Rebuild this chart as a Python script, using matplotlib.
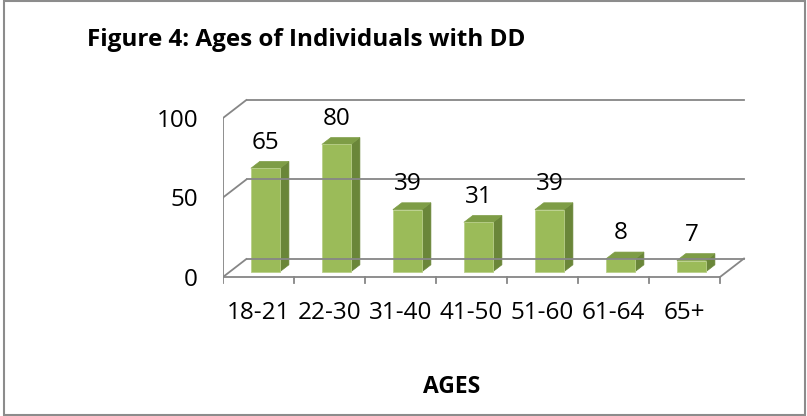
import matplotlib
matplotlib.use("Agg")
import matplotlib.pyplot as plt
from matplotlib.patches import Polygon, Rectangle

# ---- data ----
age_groups = ["18-21", "22-30", "31-40", "41-50", "51-60", "61-64", "65+"]
counts = [65, 80, 39, 31, 39, 8, 7]
y_ticks = [0, 50, 100]
title = "Figure 4: Ages of Individuals with DD"
x_title = "AGES"

# ---- styling / geometry ----
W, H, DPI = 807, 416, 100
FONT = "Open Sans"
FS = 17.5
GRID = "#868686"
FRONT = "#9BBB59"
SIDE = "#6A8639"
TOP = "#7E9D46"
EDGE = "#B9CF8A"

PX_X = 71.0      # pixels per category
PX_Y = 1.59      # pixels per value unit
DX = 24.0 / PX_X  # depth offset (x, data units)
DY = 18.5 / PX_Y  # depth offset (y, data units)
F0, DEPTH, BAR_W = 0.29, 0.37, 0.41

fig = plt.figure(figsize=(W / DPI, H / DPI), dpi=DPI)
fig.patch.set_facecolor("white")

# axes placed so that x=-0.5 sits at pixel 223 and y=0 at pixel 277
ax_left_px, ax_right_px, ax_top_px, ax_bot_px = 223, 770, 90, 300
ax = fig.add_axes([ax_left_px / W, (H - ax_bot_px) / H,
                   (ax_right_px - ax_left_px) / W, (ax_bot_px - ax_top_px) / H])
ax.set_xlim(-0.5, -0.5 + (ax_right_px - ax_left_px) / PX_X)
ax.set_ylim(-(ax_bot_px - 277) / PX_Y, (277 - ax_top_px) / PX_Y)
ax.axis("off")

n = len(age_groups)
x_lo, x_hi = -0.5, n - 0.5
lw = 1.3

# side wall diagonals and back wall gridlines
for v in y_ticks:
    ax.plot([x_lo, x_lo + DX], [v, v + DY], color=GRID, lw=lw, solid_capstyle="butt")
    ax.plot([x_lo + DX, x_hi + DX], [v + DY, v + DY], color=GRID, lw=lw)
# floor front edge and right edge
ax.plot([x_lo, x_hi], [0, 0], color=GRID, lw=lw)
ax.plot([x_hi, x_hi + DX], [0, DY], color=GRID, lw=lw)
# front value axis
ax.plot([x_lo, x_lo], [0, max(y_ticks)], color=GRID, lw=lw)

tick_x = 7.0 / PX_X
tick_y = 6.0 / PX_Y
for v in y_ticks:
    ax.plot([x_lo - tick_x, x_lo], [v, v], color=GRID, lw=lw)
    ax.text(x_lo - 25.0 / PX_X, v - 3.0 / PX_Y, str(v), ha="right", va="center",
            fontsize=FS, family=FONT, color="black")
for k in range(n + 1):
    xb = x_lo + k
    ax.plot([xb, xb], [0, -tick_y], color=GRID, lw=lw)
for i, lab in enumerate(age_groups):
    ax.text(i, -36.0 / PX_Y, lab, ha="center", va="center",
            fontsize=FS, family=FONT, color="black")

# 3-D looking columns
for i, v in enumerate(counts):
    cx = i + F0 * DX
    b = F0 * DY
    x0, x1 = cx - BAR_W / 2, cx + BAR_W / 2
    t = v + b
    ddx, ddy = DEPTH * DX, DEPTH * DY
    ax.add_patch(Polygon([(x1, b), (x1 + ddx, b + ddy), (x1 + ddx, t + ddy), (x1, t)],
                         closed=True, facecolor=SIDE, edgecolor=SIDE, lw=0.5))
    ax.add_patch(Polygon([(x0, t), (x1, t), (x1 + ddx, t + ddy), (x0 + ddx, t + ddy)],
                         closed=True, facecolor=TOP, edgecolor=TOP, lw=0.5))
    ax.add_patch(Rectangle((x0, b), BAR_W, v, facecolor=FRONT, edgecolor=EDGE, lw=0.6))
    ax.annotate(str(v), xy=(cx, t + ddy), xytext=(0, 13.5), textcoords="offset points",
                ha="center", va="center", fontsize=FS, family=FONT, color="black")

# titles
fig.text(306 / W, 1 - 40 / H, title, ha="center", va="center",
         fontsize=17.5, fontweight="bold", family=FONT, color="black")
fig.text(452 / W, 1 - 387 / H, x_title, ha="center", va="center",
         fontsize=16.5, fontweight="bold", family=FONT, color="black")

# chart border
fig.add_artist(Rectangle((4 / W, 1 / H), 801 / W, 414 / H, transform=fig.transFigure,
                         fill=False, edgecolor="#8C8C8C", lw=1.5))

fig.savefig("out.png", dpi=DPI, facecolor="white")
